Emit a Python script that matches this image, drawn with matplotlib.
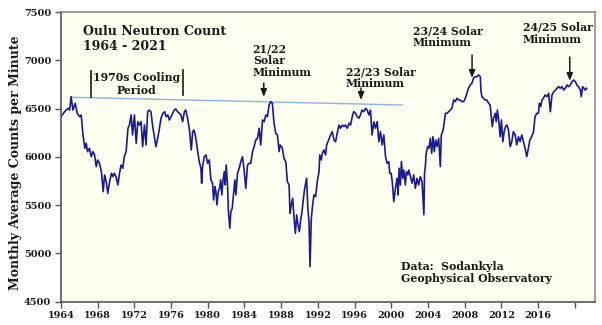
import matplotlib
matplotlib.use("Agg")
import matplotlib.pyplot as plt

# monthly-ish readings of the Oulu count
years = [
    1964.0, 1964.4, 1964.76, 1964.94, 1965.1, 1965.3, 1965.55, 1965.77, 1966.03, 1966.2,
    1966.4, 1966.6, 1966.75, 1966.9, 1967.1, 1967.3, 1967.48, 1967.66, 1967.84, 1968.0,
    1968.2, 1968.4, 1968.6, 1968.75, 1968.93, 1969.1, 1969.3, 1969.5, 1969.66, 1969.8,
    1970.0, 1970.2, 1970.38, 1970.55, 1970.74, 1970.9, 1971.1, 1971.3, 1971.46, 1971.64,
    1971.8, 1972.0, 1972.2, 1972.37, 1972.55, 1972.73, 1972.9, 1973.1, 1973.27, 1973.45,
    1973.6, 1973.8, 1974.0, 1974.2, 1974.35, 1974.54, 1974.7, 1974.9, 1975.1, 1975.3,
    1975.45, 1975.64, 1975.8, 1976.0, 1976.17, 1976.35, 1976.5, 1976.7, 1976.9, 1977.08,
    1977.26, 1977.45, 1977.6, 1977.8, 1978.0, 1978.2, 1978.35, 1978.5, 1978.7, 1978.9,
    1979.07, 1979.25, 1979.33, 1979.43, 1979.62, 1979.8, 1979.98, 1980.16, 1980.34, 1980.52,
    1980.63, 1980.78, 1980.88, 1981.0, 1981.14, 1981.28, 1981.4, 1981.53, 1981.64, 1981.8,
    1981.9, 1982.0, 1982.15, 1982.26, 1982.4, 1982.51, 1982.66, 1982.8, 1982.95, 1983.06,
    1983.24, 1983.42, 1983.6, 1983.78, 1983.96, 1984.14, 1984.33, 1984.51, 1984.69, 1984.87,
    1985.05, 1985.23, 1985.41, 1985.6, 1985.77, 1985.96, 1986.14, 1986.32, 1986.5, 1986.68,
    1986.86, 1987.04, 1987.2, 1987.4, 1987.59, 1987.77, 1987.88, 1988.02, 1988.13, 1988.3,
    1988.5, 1988.67, 1988.86, 1988.96, 1989.1, 1989.25, 1989.4, 1989.55, 1989.68, 1989.83,
    1989.98, 1990.12, 1990.27, 1990.4, 1990.56, 1990.77, 1990.9, 1991.03, 1991.14, 1991.28,
    1991.43, 1991.57, 1991.75, 1991.93, 1992.12, 1992.2, 1992.37, 1992.48, 1992.66, 1992.84,
    1992.95, 1993.1, 1993.24, 1993.38, 1993.56, 1993.75, 1993.93, 1994.1, 1994.3, 1994.47,
    1994.65, 1994.84, 1995.0, 1995.2, 1995.4, 1995.56, 1995.74, 1995.9, 1996.1, 1996.28,
    1996.47, 1996.64, 1996.8, 1997.0, 1997.2, 1997.37, 1997.55, 1997.73, 1997.9, 1998.1,
    1998.27, 1998.46, 1998.64, 1998.82, 1999.0, 1999.18, 1999.37, 1999.54, 1999.73, 1999.83,
    1999.98, 2000.12, 2000.27, 2000.45, 2000.63, 2000.74, 2000.85, 2000.99, 2001.1, 2001.25,
    2001.36, 2001.53, 2001.64, 2001.79, 2001.9, 2002.08, 2002.26, 2002.44, 2002.62, 2002.8,
    2002.98, 2003.16, 2003.35, 2003.55, 2003.62, 2003.71, 2003.8, 2003.96, 2004.1, 2004.25,
    2004.4, 2004.54, 2004.69, 2004.83, 2004.98, 2005.16, 2005.34, 2005.45, 2005.6, 2005.7,
    2005.9, 2006.07, 2006.25, 2006.43, 2006.6, 2006.8, 2006.97, 2007.15, 2007.33, 2007.5,
    2007.7, 2007.88, 2008.06, 2008.24, 2008.4, 2008.6, 2008.78, 2008.96, 2009.14, 2009.33,
    2009.5, 2009.7, 2009.76, 2009.87, 2010.05, 2010.23, 2010.4, 2010.6, 2010.77, 2010.88,
    2011.0, 2011.14, 2011.32, 2011.43, 2011.56, 2011.7, 2011.86, 2012.0, 2012.15, 2012.3,
    2012.45, 2012.6, 2012.77, 2012.95, 2013.13, 2013.3, 2013.5, 2013.67, 2013.86, 2014.03,
    2014.22, 2014.4, 2014.58, 2014.76, 2014.94, 2015.1, 2015.3, 2015.5, 2015.66, 2015.85,
    2016.03, 2016.14, 2016.28, 2016.43, 2016.58, 2016.75, 2016.97, 2017.15, 2017.33, 2017.51,
    2017.7, 2017.9, 2018.05, 2018.24, 2018.42, 2018.6, 2018.78, 2018.97, 2019.14, 2019.33,
    2019.5, 2019.7, 2019.87, 2020.05, 2020.23, 2020.4, 2020.6, 2020.7, 2020.85, 2021.0,
    2021.14, 2021.3,
]
counts = [
    6416, 6468, 6503, 6485, 6623, 6485, 6555, 6451, 6416, 6434,
    6227, 6089, 6141, 6054, 6089, 6002, 6054, 6020, 5899, 5968,
    5933, 5847, 5640, 5813, 5743, 5623, 5743, 5830, 5795, 5830,
    5795, 5709, 5830, 5916, 5882, 6002, 6054, 6296, 6330, 6434,
    6227, 6434, 6141, 6364, 6330, 6364, 6106, 6330, 6123, 6468,
    6485, 6468, 6313, 6192, 6106, 6192, 6278, 6400, 6451, 6468,
    6416, 6434, 6382, 6416, 6451, 6485, 6496, 6468, 6451, 6434,
    6364, 6468, 6485, 6400, 6278, 6071, 6261, 6278, 6192, 6054,
    5950, 5882, 5727, 5899, 6002, 6020, 5933, 5968, 5761, 5727,
    5554, 5691, 5640, 5502, 5640, 5675, 5761, 5606, 5743, 5847,
    5709, 5916, 5709, 5416, 5261, 5433, 5468, 5606, 5761, 5606,
    5830, 5882, 5950, 6002, 5864, 5675, 5916, 5933, 5933, 6054,
    6106, 6175, 6192, 6296, 6123, 6382, 6364, 6434, 6416, 6537,
    6572, 6555, 6364, 6244, 6227, 6054, 6123, 6106, 6089, 5985,
    5950, 5743, 5709, 5416, 5502, 5571, 5364, 5209, 5399, 5295,
    5226, 5347, 5433, 5554, 5675, 5778, 5468, 5330, 4863, 5364,
    5502, 5606, 5588, 5743, 5847, 6020, 5968, 6037, 6071, 6020,
    6123, 6157, 6192, 6227, 6261, 6175, 6157, 6244, 6330, 6296,
    6330, 6313, 6330, 6296, 6348, 6330, 6416, 6468, 6451, 6416,
    6400, 6434, 6485, 6468, 6503, 6485, 6434, 6485, 6227, 6364,
    6296, 6364, 6157, 6261, 6123, 6227, 6002, 5933, 5950, 5830,
    5830, 5727, 5536, 5675, 5778, 5606, 5882, 5709, 5950, 5778,
    5864, 5709, 5847, 5813, 5864, 5795, 5727, 5813, 5675, 5778,
    5709, 5795, 5743, 5400, 5830, 5899, 6037, 6106, 6089, 6192,
    6037, 6209, 6054, 6175, 6106, 6192, 5899, 6227, 6261, 6313,
    6451, 6451, 6468, 6485, 6503, 6589, 6572, 6607, 6589, 6589,
    6572, 6572, 6607, 6658, 6710, 6744, 6762, 6814, 6830, 6830,
    6848, 6830, 6692, 6623, 6607, 6589, 6589, 6555, 6537, 6434,
    6313, 6400, 6451, 6364, 6485, 6382, 6209, 6382, 6157, 6261,
    6313, 6330, 6278, 6106, 6157, 6261, 6227, 6123, 6209, 6157,
    6227, 6157, 6089, 6002, 6089, 6175, 6209, 6261, 6416, 6451,
    6451, 6555, 6520, 6589, 6607, 6641, 6623, 6658, 6468, 6641,
    6675, 6692, 6710, 6727, 6710, 6727, 6692, 6710, 6744, 6727,
    6744, 6779, 6796, 6779, 6744, 6727, 6692, 6623, 6727, 6710,
    6692, 6710,
]

# faint reference line across the earlier minima
ref_years = [1965.1, 2001.2]
ref_counts = [6617, 6537]

minima = [
    # label, text x, text top, arrow x, arrow tail, arrow tip
    ("21/22\nSolar\nMinimum", 1984.9, 7175, 1986.1, 6765, 6620),
    ("22/23 Solar\nMinimum", 1995.05, 6935, 1996.7, 6713, 6589),
    ("23/24 Solar\nMinimum", 2002.35, 7360, 2008.8, 7055, 6817),
    ("24/25 Solar\nMinimum", 2014.33, 7400, 2019.45, 7034, 6786),
]

year_ticks = list(range(1964, 2021, 4))
year_labels = [str(y) if y < 2020 else "" for y in year_ticks]
count_ticks = list(range(4500, 7501, 500))

serif = "DejaVu Serif"
ink = "#1a1a1a"

fig = plt.figure(figsize=(6.02, 3.25), dpi=100)
ax = fig.add_axes([0.1013, 0.0717, 0.8871, 0.8913])
ax.set_facecolor("#fefef1")

ax.plot(ref_years, ref_counts, color="#8fb3dd", linewidth=1.0)
ax.plot(years, counts, color="#1b1b8f", linewidth=1.2)

ax.set_xlim(1964, 2022.2)
ax.set_ylim(4500, 7500)
ax.set_xticks(year_ticks)
ax.set_xticklabels(year_labels)
ax.set_yticks(count_ticks)

for lab in ax.get_xticklabels() + ax.get_yticklabels():
    lab.set_fontfamily(serif)
    lab.set_fontweight("bold")
    lab.set_fontsize(7.0)
    lab.set_color(ink)
ax.tick_params(direction="out", length=4, width=1, color="#555555", pad=3)

for side in ("left", "bottom"):
    ax.spines[side].set_color("#555555")
    ax.spines[side].set_linewidth(1.2)
for side in ("top", "right"):
    ax.spines[side].set_color("#8c8c8c")
    ax.spines[side].set_linewidth(1.2)

ax.set_ylabel("Monthly Average Counts per Minute", family=serif, weight="bold",
              fontsize=9.0, color=ink)
ax.yaxis.set_label_coords(-0.073, 0.48)

ax.text(1966.4, 7365, "Oulu Neutron Count\n1964 - 2021", family=serif, weight="bold",
        fontsize=9.0, color=ink, va="top", ha="left", linespacing=1.2)

ax.text(1972.2, 6875, "1970s Cooling\nPeriod", family=serif, weight="bold",
        fontsize=7.8, color=ink, va="top", ha="center", linespacing=1.15)
ax.plot([1967.27, 1967.27], [6892, 6617], color=ink, linewidth=1.2)
ax.plot([1977.26, 1977.26], [6902, 6640], color=ink, linewidth=1.2)

for label, tx, ty, axx, tail, tip in minima:
    ax.text(tx, ty, label, family=serif, weight="bold", fontsize=7.8, color=ink,
            va="top", ha="left", linespacing=1.1)
    ax.annotate("", xy=(axx, tip), xytext=(axx, tail),
                arrowprops=dict(arrowstyle="-|>,head_length=0.45,head_width=0.18",
                                color=ink, linewidth=1.1, shrinkA=0, shrinkB=0))

ax.text(2001.04, 4920, "Data:  Sodankyla\nGeophysical Observatory", family=serif,
        weight="bold", fontsize=7.8, color=ink, va="top", ha="left", linespacing=1.15)

fig.savefig("out.png", dpi=100, facecolor="white")
